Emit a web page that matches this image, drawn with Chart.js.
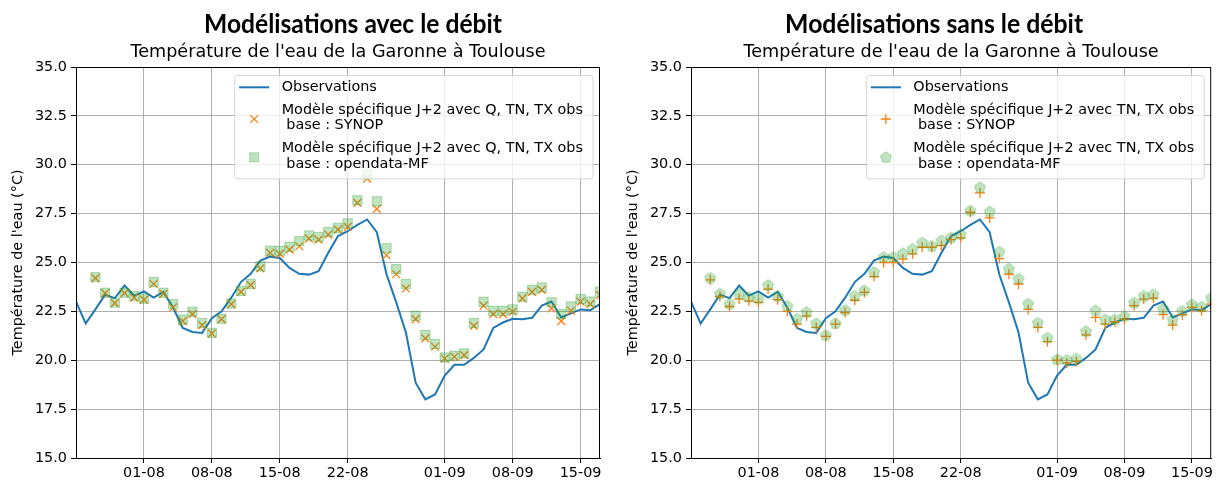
<!DOCTYPE html>
<html>
<head>
<meta charset="utf-8">
<script src="https://cdn.jsdelivr.net/npm/chart.js@4/dist/chart.umd.min.js"></script>
<style>
  html, body { margin: 0; padding: 0; background: #fff; }
  #wrap { position: relative; width: 1218px; height: 481px; }
  #c1, #c2 { position: absolute; top: 0; }
  #c1 { left: 0; }
  #c2 { left: 609px; }
</style>
</head>
<body>
<div id="wrap">
  <canvas id="c1" width="609" height="481"></canvas>
  <canvas id="c2" width="609" height="481"></canvas>
</div>
<script>
// Daily dates (dd-mm), 25 July to 17 September
const dates = [
  "25-07","26-07","27-07","28-07","29-07","30-07","31-07",
  "01-08","02-08","03-08","04-08","05-08","06-08","07-08","08-08","09-08","10-08",
  "11-08","12-08","13-08","14-08","15-08","16-08","17-08","18-08","19-08","20-08",
  "21-08","22-08","23-08","24-08","25-08","26-08","27-08","28-08","29-08","30-08","31-08",
  "01-09","02-09","03-09","04-09","05-09","06-09","07-09","08-09","09-09","10-09",
  "11-09","12-09","13-09","14-09","15-09","16-09","17-09"
];
const tickLabels = ["01-08","08-08","15-08","22-08","01-09","08-09","15-09"];

// Observed water temperature (°C)
const observations = [
  23.0, 21.88, 22.6, 23.35, 23.18, 23.82, 23.3,
  23.52, 23.2, 23.5, 22.7, 21.65, 21.45, 21.4, 22.15, 22.5, 23.2,
  24.0, 24.42, 25.1, 25.3, 25.23, 24.72, 24.42, 24.38, 24.55, 25.5,
  26.35, 26.6, 26.92, 27.2, 26.55, 24.4, 22.96, 21.42, 18.85, 18.0, 18.25,
  19.22, 19.77, 19.77, 20.12, 20.55, 21.65, 21.93, 22.12, 22.1, 22.17,
  22.8, 23.0, 22.19, 22.4, 22.6, 22.56, 22.87
];

// Model J+2 with Q, TN, TX obs
const avecSynop = [
  null, null, 24.2, 23.43, 22.92, 23.43, 23.2,
  23.1, 23.9, 23.4, 22.7, 22.0, 22.36, 21.8, 21.37, 22.1, 22.87,
  23.5, 23.84, 24.7, 25.5, 25.44, 25.66, 25.83, 26.22, 26.17, 26.43,
  26.68, 26.82, 28.05, 29.29, 27.74, 25.37, 24.4, 23.67, 22.1, 21.12, 20.69,
  20.09, 20.18, 20.26, 21.76, 22.79, 22.36, 22.36, 22.48, 23.16, 23.5,
  23.6, 22.65, 22.0, 22.53, 22.99, 22.87, 23.33
];
const avecOpendata = [
  null, null, 24.25, 23.45, 22.95, 23.45, 23.28,
  23.15, 24.0, 23.45, 22.87, 22.08, 22.48, 21.9, 21.4, 22.12, 22.9,
  23.55, 23.9, 24.8, 25.6, 25.6, 25.8, 26.09, 26.38, 26.3, 26.55,
  26.77, 27.0, 28.18, 29.5, 28.13, 25.73, 24.66, 23.9, 22.27, 21.29, 20.83,
  20.14, 20.23, 20.35, 21.9, 22.99, 22.53, 22.53, 22.6, 23.25, 23.6,
  23.72, 22.96, 22.36, 22.75, 23.13, 23.0, 23.5
];

// Model J+2 with TN, TX obs only
const sansSynop = [
  null, null, 24.11, 23.26, 22.75, 23.13, 23.04,
  22.96, 23.64, 23.1, 22.5, 21.85, 22.27, 21.68, 21.22, 21.85, 22.44,
  23.07, 23.47, 24.28, 25.0, 25.0, 25.17, 25.44, 25.78, 25.78, 25.86,
  26.17, 26.26, 27.57, 28.56, 27.28, 25.2, 24.4, 23.9, 22.6, 21.68, 20.95,
  20.0, 19.86, 19.94, 21.3, 22.19, 21.85, 21.97, 22.1, 22.79, 23.13,
  23.18, 22.33, 21.8, 22.33, 22.7, 22.53, 22.87
];
const sansOpendata = [
  null, null, 24.23, 23.42, 22.9, 23.42, 23.25,
  23.16, 23.86, 23.3, 22.79, 22.14, 22.48, 21.9, 21.3, 21.9, 22.58,
  23.3, 23.59, 24.52, 25.29, 25.29, 25.49, 25.71, 26.03, 25.86, 26.14,
  26.29, 26.46, 27.67, 28.86, 27.62, 25.57, 24.7, 24.18, 22.9, 21.93, 21.17,
  20.06, 20.03, 20.1, 21.5, 22.56, 22.1, 22.1, 22.27, 22.96, 23.3,
  23.38, 22.65, 22.1, 22.53, 22.87, 22.75, 23.21
];

const BLUE = '#1f77b4';
const ORANGE = '#ff7f0e';
const GREEN_FILL = 'rgba(44,160,44,0.30)';
const GREEN_EDGE = 'rgba(44,160,44,0.32)';
const FONT = '"DejaVu Sans", sans-serif';
const FS = 14.4;

function pentagonPath(g, cx, cy, r) {
  g.beginPath();
  for (let k = 0; k < 5; k++) {
    const a = -Math.PI / 2 + k * 2 * Math.PI / 5;
    const px = cx + r * Math.cos(a), py = cy + r * Math.sin(a);
    if (k === 0) g.moveTo(px, py); else g.lineTo(px, py);
  }
  g.closePath();
}

function makePentagon(r) {
  const s = 2 * Math.ceil(r + 2);
  const c = document.createElement('canvas');
  c.width = s; c.height = s;
  const g = c.getContext('2d');
  pentagonPath(g, s / 2, s / 2 + 0.5, r);
  g.fillStyle = GREEN_FILL; g.fill();
  g.strokeStyle = GREEN_EDGE; g.lineWidth = 1; g.stroke();
  return c;
}
const pentagon = makePentagon(5.8);

function drawMarker(ctx, kind, x, y) {
  ctx.save();
  if (kind === 'x') {
    const d = 3.9;
    ctx.strokeStyle = ORANGE; ctx.lineWidth = 1.3;
    ctx.beginPath();
    ctx.moveTo(x - d, y - d); ctx.lineTo(x + d, y + d);
    ctx.moveTo(x - d, y + d); ctx.lineTo(x + d, y - d);
    ctx.stroke();
  } else if (kind === '+') {
    const d = 5;
    ctx.strokeStyle = ORANGE; ctx.lineWidth = 1.3;
    ctx.beginPath();
    ctx.moveTo(x - d, y); ctx.lineTo(x + d, y);
    ctx.moveTo(x, y - d); ctx.lineTo(x, y + d);
    ctx.stroke();
  } else if (kind === 'square') {
    ctx.fillStyle = GREEN_FILL; ctx.strokeStyle = GREEN_EDGE; ctx.lineWidth = 1;
    ctx.fillRect(x - 4.5, y - 4.5, 9, 9);
    ctx.strokeRect(x - 4.5, y - 4.5, 9, 9);
  } else if (kind === 'pentagon') {
    ctx.drawImage(pentagon, Math.round(x - pentagon.width / 2), Math.round(y - pentagon.height / 2));
  }
  ctx.restore();
}

// Frame, legend and titles drawn on top of each panel
const decorations = {
  id: 'decorations',
  afterDraw(chart, args, opts) {
    const { ctx, chartArea: a } = chart;
    ctx.save();

    // axes frame
    ctx.strokeStyle = '#000'; ctx.lineWidth = 1;
    ctx.strokeRect(a.left + 0.5, a.top + 0.5, a.right - a.left - 1, a.bottom - a.top);

    // headline and subtitle
    const cx = (a.left + a.right) / 2;
    ctx.fillStyle = '#000';
    ctx.textAlign = 'center'; ctx.textBaseline = 'middle';
    ctx.font = 'bold 27px Lato, sans-serif';
    const tw = ctx.measureText(opts.title).width;
    const sx = Math.min(1, opts.titleWidth / tw);
    ctx.save();
    ctx.translate(cx + opts.titleShift, 24);
    ctx.scale(sx, 1);
    ctx.fillText(opts.title, 0, 0);
    ctx.restore();
    ctx.font = '17.6px ' + FONT;
    ctx.fillText("Température de l'eau de la Garonne à Toulouse", cx, 52);

    // legend
    ctx.font = FS + 'px ' + FONT;
    ctx.textAlign = 'left';
    let maxW = 0;
    opts.entries.forEach(e => e.lines.forEach(l => { maxW = Math.max(maxW, ctx.measureText(l).width); }));
    const right = a.right - 7.5, top = a.top + 8;
    const w = maxW + 57, h = 103.3, left = right - w;
    ctx.beginPath();
    ctx.roundRect(left + 0.5, top + 0.5, w, h, 3);
    ctx.fillStyle = 'rgba(255,255,255,0.8)'; ctx.fill();
    ctx.strokeStyle = '#d6d6d6'; ctx.lineWidth = 1; ctx.stroke();

    const rowY = [[top + 12.3], [top + 35, top + 50.7], [top + 73.3, top + 89.3]];
    const markY = [top + 12.3, top + 44, top + 82.3];
    opts.entries.forEach((e, k) => {
      if (e.kind === 'line') {
        ctx.strokeStyle = BLUE; ctx.lineWidth = 2;
        ctx.beginPath(); ctx.moveTo(left + 5, markY[k]); ctx.lineTo(left + 35, markY[k]); ctx.stroke();
      } else {
        drawMarker(ctx, e.kind, left + 20, markY[k]);
      }
      ctx.fillStyle = '#000'; ctx.textBaseline = 'middle';
      e.lines.forEach((l, j) => ctx.fillText(l, left + 47.5, rowY[k][j]));
    });
    ctx.restore();
  }
};

function buildPanel(canvas, p) {
  return new Chart(canvas, {
    type: 'line',
    data: {
      labels: dates,
      datasets: [
        { label: 'Observations', data: observations, borderColor: BLUE, borderWidth: 2,
          pointRadius: 0, tension: 0, order: 3, clip: 0 },
        { label: p.synopName, data: p.synop, showLine: false, pointStyle: p.synopStyle,
          pointRadius: p.synopRadius, pointBorderWidth: 1.3, borderColor: ORANGE,
          backgroundColor: ORANGE, order: 2, clip: 0 },
        { label: p.odName, data: p.od, showLine: false, pointStyle: p.odStyle,
          pointRadius: p.odRadius, pointBorderWidth: 1, borderColor: GREEN_EDGE,
          backgroundColor: GREEN_FILL, order: 1, clip: 0 }
      ]
    },
    options: {
      responsive: false, animation: false, devicePixelRatio: 1,
      events: [],
      layout: { padding: { left: 0, right: p.padRight, top: 67, bottom: 0 } },
      plugins: {
        legend: { display: false }, tooltip: { enabled: false }, title: { display: false },
        decorations: { title: p.title, titleWidth: 298, titleShift: p.titleShift, entries: p.entries }
      },
      scales: {
        x: {
          type: 'category', offset: false,
          afterBuildTicks(s) { s.ticks = s.ticks.filter(t => tickLabels.includes(dates[t.value])); },
          afterFit(s) { s.height = 23; },
          ticks: { autoSkip: false, maxRotation: 0, padding: 2, color: '#000',
                   font: { family: FONT, size: FS } },
          grid: { color: '#b0b0b0', lineWidth: 1, tickLength: 5, tickColor: '#000' },
          border: { display: true, color: '#000', width: 1 }
        },
        y: {
          min: 15, max: 35,
          afterFit(s) { s.width = p.yWidth; },
          ticks: { stepSize: 2.5, callback: v => v.toFixed(1), padding: 4, color: '#000',
                   font: { family: FONT, size: FS } },
          grid: { color: '#b0b0b0', lineWidth: 1, tickLength: 5, tickColor: '#000' },
          border: { display: true, color: '#000', width: 1 },
          title: { display: true, text: "Température de l'eau (°C)", color: '#000',
                   font: { family: FONT, size: FS }, padding: { top: p.yTitlePad, bottom: 0 } }
        }
      }
    },
    plugins: [decorations]
  });
}

buildPanel(document.getElementById('c1'), {
  title: 'Modélisations avec le débit', titleShift: 15,
  synop: avecSynop, od: avecOpendata,
  synopStyle: 'crossRot', synopRadius: 5.5,
  odStyle: 'rect', odRadius: 6.6,
  synopName: 'Modèle spécifique J+2 avec Q, TN, TX obs base : SYNOP',
  odName: 'Modèle spécifique J+2 avec Q, TN, TX obs base : opendata-MF',
  padRight: 9, yWidth: 76, yTitlePad: 10,
  entries: [
    { kind: 'line', lines: ['Observations'] },
    { kind: 'x', lines: ['Modèle spécifique J+2 avec Q, TN, TX obs', ' base : SYNOP'] },
    { kind: 'square', lines: ['Modèle spécifique J+2 avec Q, TN, TX obs', ' base : opendata-MF'] }
  ]
});

buildPanel(document.getElementById('c2'), {
  title: 'Modélisations sans le débit', titleShift: -17,
  synop: sansSynop, od: sansOpendata,
  synopStyle: 'cross', synopRadius: 5,
  odStyle: pentagon, odRadius: 5.8,
  synopName: 'Modèle spécifique J+2 avec TN, TX obs base : SYNOP',
  odName: 'Modèle spécifique J+2 avec TN, TX obs base : opendata-MF',
  padRight: 3, yWidth: 82, yTitlePad: 16,
  entries: [
    { kind: 'line', lines: ['Observations'] },
    { kind: '+', lines: ['Modèle spécifique J+2 avec TN, TX obs', ' base : SYNOP'] },
    { kind: 'pentagon', lines: ['Modèle spécifique J+2 avec TN, TX obs', ' base : opendata-MF'] }
  ]
});
</script>
</body>
</html>
